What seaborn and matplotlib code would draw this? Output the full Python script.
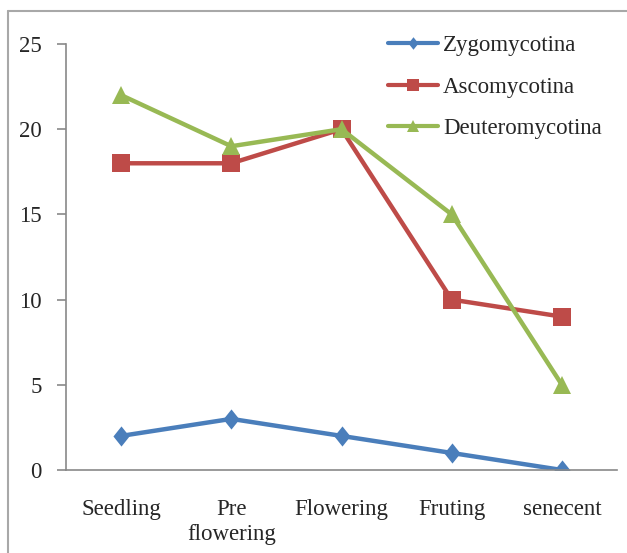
import matplotlib
matplotlib.use("Agg")
import matplotlib.pyplot as plt
from matplotlib.lines import Line2D
import seaborn as sns
import pandas as pd

stages = ["Seedling", "Pre\nflowering", "Flowering", "Fruting", "senecent"]
series_names = ["Zygomycotina", "Ascomycotina", "Deuteromycotina"]
zygomycotina = [2, 3, 2, 1, 0]
ascomycotina = [18, 18, 20, 10, 9]
deuteromycotina = [22, 19, 20, 15, 5]
y_ticks = [0, 5, 10, 15, 20, 25]

colors = {"Zygomycotina": "#4A7EBB", "Ascomycotina": "#BE4B48", "Deuteromycotina": "#98B954"}
diamond = [(0, 1), (0.8, 0), (0, -1), (-0.8, 0), (0, 1)]
markers = {"Zygomycotina": diamond, "Ascomycotina": "s", "Deuteromycotina": "^"}
msizes = {"Zygomycotina": 14.5, "Ascomycotina": 13.5, "Deuteromycotina": 13}

rows = []
for name, vals in zip(series_names, [zygomycotina, ascomycotina, deuteromycotina]):
    for i, v in enumerate(vals):
        rows.append({"stage": i, "value": v, "series": name})
df = pd.DataFrame(rows)

sns.set_style("white")
plt.rcParams["font.family"] = ["Liberation Serif", "DejaVu Serif"]

W, H = 627, 553
fig = plt.figure(figsize=(W / 100, H / 100), dpi=100)
ax = fig.add_axes([66 / W, 1 - 470 / H, (617 - 66) / W, (470 - 44) / H])

sns.lineplot(data=df, x="stage", y="value", hue="series", style="series",
             hue_order=series_names, style_order=series_names,
             palette=colors, markers=markers, dashes=False, lw=3.2,
             markersize=13, markeredgewidth=0, legend=False, ax=ax)
for line, name in zip(ax.lines, series_names):
    line.set_markersize(msizes[name])

ax.set_xlim(-0.5, 4.5)
ax.set_ylim(0, 25)
ax.set_yticks(y_ticks)
ax.set_yticklabels([str(t) for t in y_ticks], fontsize=16.5)
ax.set_xticks(range(len(stages)))
ax.set_xticklabels(stages, fontsize=16.5, linespacing=1.25)
ax.set_xticks([i - 0.5 for i in range(len(stages) + 1)], minor=True)
ax.tick_params(axis="x", which="major", length=0, pad=21)
ax.tick_params(axis="x", which="minor", length=6.5, width=1.2, color="#898989", direction="out")
ax.tick_params(axis="y", length=6.5, width=1.2, color="#898989", direction="out", pad=11, left=True)
ax.set_xlabel("")
ax.set_ylabel("")
for s in ["top", "right"]:
    ax.spines[s].set_visible(False)
for s in ["left", "bottom"]:
    ax.spines[s].set_color("#898989")
    ax.spines[s].set_linewidth(1.2)
ax.set_facecolor("none")

handles = [Line2D([], [], color=colors[n], lw=3, marker=markers[n], markersize=9, markeredgewidth=0)
           for n in series_names]
ax.legend(handles, series_names, loc="upper left", bbox_to_anchor=(388 / W, 1 - 35 / H),
          bbox_transform=fig.transFigure, frameon=False, fontsize=16.5,
          handlelength=2.2, handletextpad=0.2, labelspacing=0.9, borderpad=0, borderaxespad=0)

# outer frame
fig.add_artist(Line2D([8 / W, 1], [1 - 11 / H, 1 - 11 / H], color="#a8a8a8", lw=1.5, transform=fig.transFigure))
fig.add_artist(Line2D([8 / W, 8 / W], [1 - 11 / H, 0], color="#a8a8a8", lw=1.5, transform=fig.transFigure))

fig.savefig("out.png", dpi=100)
